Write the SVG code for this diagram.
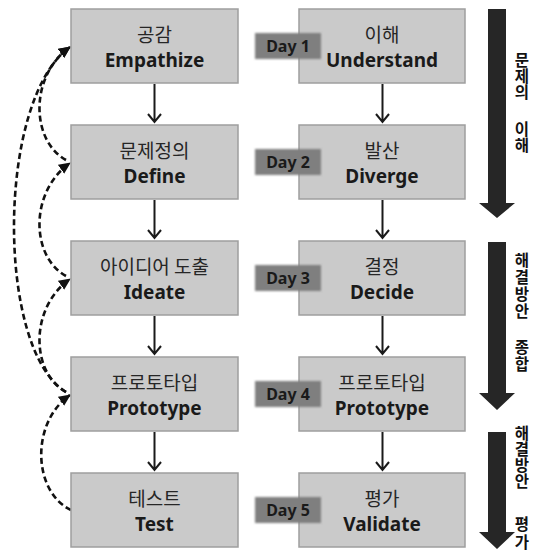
<svg xmlns="http://www.w3.org/2000/svg" width="535" height="554" viewBox="0 0 535 554">
<style>
.box{fill:#cacaca;stroke:#9e9e9e;stroke-width:1.5}
.ko{font-family:"Noto Sans CJK KR","Noto Sans",sans-serif;font-size:19px;fill:#262626;text-anchor:middle}
.en{font-family:"Noto Sans","Noto Sans CJK KR",sans-serif;font-size:19px;font-weight:bold;fill:#1a1a1a;text-anchor:middle}
.day{fill:#7f7f7f}
.dayt{font-family:"Noto Sans","Noto Sans CJK KR",sans-serif;font-size:16px;font-weight:bold;fill:#1a1a1a;text-anchor:middle}
.solid{stroke:#1a1a1a;stroke-width:2;fill:none}
.dash{stroke:#111;stroke-width:2.6;fill:none;stroke-dasharray:6 3.5}
.big{fill:#262626}
.vt{font-family:"Noto Sans CJK KR",sans-serif;font-size:15.5px;font-weight:bold;fill:#111;writing-mode:vertical-rl;text-orientation:upright}
</style>
<defs>
<marker id="ah" markerUnits="userSpaceOnUse" markerWidth="13" markerHeight="12" refX="11" refY="5.5" orient="auto">
<path d="M0,0 L12,5.5 L0,11 z" fill="#111"/>
</marker>
<filter id="soft" x="-10%" y="-20%" width="120%" height="140%">
<feGaussianBlur stdDeviation="0.9"/>
</filter>
</defs>

<g id="connectors">
<path class="solid" d="M154.5,84 V122 M148,114 L154.5,122 L161,114"/>
<path class="solid" d="M154.5,200 V238 M148,230 L154.5,238 L161,230"/>
<path class="solid" d="M154.5,316 V354 M148,346 L154.5,354 L161,346"/>
<path class="solid" d="M154.5,432 V470 M148,462 L154.5,470 L161,462"/>
<path class="solid" d="M382.5,84 V122 M376,114 L382.5,122 L389,114"/>
<path class="solid" d="M382.5,200 V238 M376,230 L382.5,238 L389,230"/>
<path class="solid" d="M382.5,316 V354 M376,346 L382.5,354 L389,346"/>
<path class="solid" d="M382.5,432 V470 M376,462 L382.5,470 L389,462"/>
<path class="dash" d="M66,160 C 30,140 30,75 70,47" marker-end="url(#ah)"/>
<path class="dash" d="M66,276 C 30,256 30,191 70,163" marker-end="url(#ah)"/>
<path class="dash" d="M66,392 C 30,372 30,307 70,279" marker-end="url(#ah)"/>
<path class="dash" d="M71,510 C 33,492 30,423 70,395" marker-end="url(#ah)"/>
<path class="dash" d="M66,392 C -4,350 -4,100 70,47" marker-end="url(#ah)"/>
</g>

<g id="empathize"><rect class="box" x="71" y="9" width="167" height="74"/><text class="ko" x="154.5" y="42">공감</text><text class="en" x="154.5" y="67">Empathize</text></g>
<g id="define"><rect class="box" x="71" y="125" width="167" height="74"/><text class="ko" x="154.5" y="158">문제정의</text><text class="en" x="154.5" y="183">Define</text></g>
<g id="ideate"><rect class="box" x="71" y="241" width="167" height="74"/><text class="ko" x="154.5" y="274">아이디어 도출</text><text class="en" x="154.5" y="299">Ideate</text></g>
<g id="prototype"><rect class="box" x="71" y="357" width="167" height="74"/><text class="ko" x="154.5" y="390">프로토타입</text><text class="en" x="154.5" y="415">Prototype</text></g>
<g id="test"><rect class="box" x="71" y="473" width="167" height="74"/><text class="ko" x="154.5" y="506">테스트</text><text class="en" x="154.5" y="531">Test</text></g>

<g id="understand"><rect class="box" x="299" y="9" width="166" height="74"/><text class="ko" x="382" y="42">이해</text><text class="en" x="382" y="67">Understand</text></g>
<g id="diverge"><rect class="box" x="299" y="125" width="166" height="74"/><text class="ko" x="382" y="158">발산</text><text class="en" x="382" y="183">Diverge</text></g>
<g id="decide"><rect class="box" x="299" y="241" width="166" height="74"/><text class="ko" x="382" y="274">결정</text><text class="en" x="382" y="299">Decide</text></g>
<g id="prototype2"><rect class="box" x="299" y="357" width="166" height="74"/><text class="ko" x="382" y="390">프로토타입</text><text class="en" x="382" y="415">Prototype</text></g>
<g id="validate"><rect class="box" x="299" y="473" width="166" height="74"/><text class="ko" x="382" y="506">평가</text><text class="en" x="382" y="531">Validate</text></g>

<g id="day1"><rect class="day" x="255" y="33" width="66" height="26" filter="url(#soft)"/><text class="dayt" x="288" y="52">Day 1</text></g>
<g id="day2"><rect class="day" x="255" y="149" width="66" height="26" filter="url(#soft)"/><text class="dayt" x="288" y="168">Day 2</text></g>
<g id="day3"><rect class="day" x="255" y="265" width="66" height="26" filter="url(#soft)"/><text class="dayt" x="288" y="284">Day 3</text></g>
<g id="day4"><rect class="day" x="255" y="381" width="66" height="26" filter="url(#soft)"/><text class="dayt" x="288" y="400">Day 4</text></g>
<g id="day5"><rect class="day" x="255" y="497" width="66" height="26" filter="url(#soft)"/><text class="dayt" x="288" y="516">Day 5</text></g>

<g id="phase1"><path class="big" d="M488,9 H506 V203 H515 L497,218 L479,203 H488 Z"/>
<text class="vt" letter-spacing="0.5"><tspan x="522" y="52">문제의</tspan><tspan x="522" y="121">이해</tspan></text></g>
<g id="phase2"><path class="big" d="M488,242 H506 V393 H515 L497,410 L479,393 H488 Z"/>
<text class="vt" letter-spacing="1.5"><tspan x="522" y="252">해결방안</tspan><tspan x="522" y="339">종합</tspan></text></g>
<g id="phase3"><path class="big" d="M488,432 H506 V532 H515 L497,549 L479,532 H488 Z"/>
<text class="vt" letter-spacing="0.5"><tspan x="522" y="425">해결방안</tspan><tspan x="522" y="516" letter-spacing="2.5">평가</tspan></text></g>
</svg>
